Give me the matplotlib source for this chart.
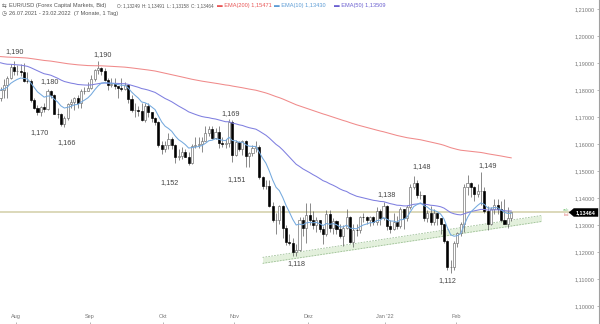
import numpy as np
import pandas as pd
import matplotlib
matplotlib.use("Agg")
import matplotlib.pyplot as plt
from matplotlib.patches import Polygon

plt.rcParams['font.family'] = ['Liberation Sans', 'DejaVu Sans']

# daily EUR/USD candles, 26.07.2021 - 23.02.2022 (one row per week)
dates = pd.bdate_range('2021-07-26', '2022-02-23')
first_open = 1.1770
closes = [
    1.1800, 1.1817, 1.1843, 1.1887, 1.1870,
    1.1870, 1.1867, 1.1835, 1.1833, 1.1762,
    1.1735, 1.1718, 1.1738, 1.1730, 1.1795,
    1.1780, 1.1712, 1.1710, 1.1675, 1.1698,
    1.1748, 1.1755, 1.1772, 1.1750, 1.1795,
    1.1797, 1.1808, 1.1840, 1.1875, 1.1880,
    1.1872, 1.1838, 1.1818, 1.1822, 1.1813,
    1.1808, 1.1805, 1.1817, 1.1765, 1.1725,
    1.1727, 1.1723, 1.1690, 1.1740, 1.1720,
    1.1695, 1.1683, 1.1598, 1.1580, 1.1595,
    1.1620, 1.1598, 1.1553, 1.1555, 1.1570,
    1.1553, 1.1528, 1.1594, 1.1598, 1.1600,
    1.1610, 1.1640, 1.1655, 1.1623, 1.1645,
    1.1605, 1.1600, 1.1605, 1.1682, 1.1558,
    1.1607, 1.1580, 1.1610, 1.1555, 1.1568,
    1.1587, 1.1590, 1.1478, 1.1445, 1.1445,
    1.1370, 1.1318, 1.1318, 1.1370, 1.1290,
    1.1237, 1.1235, 1.1200, 1.1208, 1.1318,
    1.1290, 1.1338, 1.1320, 1.1300, 1.1317,
    1.1285, 1.1265, 1.1340, 1.1290, 1.1315,
    1.1285, 1.1258, 1.1290, 1.1330, 1.1238,
    1.1282, 1.1280, 1.1330, 1.1328, 1.1320,
    1.1330, 1.1310, 1.1350, 1.1325, 1.1370,
    1.1295, 1.1285, 1.1312, 1.1295, 1.1358,
    1.1325, 1.1368, 1.1440, 1.1455, 1.1410,
    1.1410, 1.1325, 1.1345, 1.1310, 1.1345,
    1.1325, 1.1302, 1.1240, 1.1145, 1.1145,
    1.1235, 1.1270, 1.1305, 1.1440, 1.1455,
    1.1442, 1.1415, 1.1425, 1.1425, 1.1350,
    1.1305, 1.1358, 1.1375, 1.1360, 1.1320,
    1.1305, 1.1325, 1.13464,
]
highs = [
    1.1810, 1.1840, 1.1850, 1.1895, 1.1909,
    1.1892, 1.1895, 1.1900, 1.1865, 1.1840,
    1.1770, 1.1745, 1.1742, 1.1750, 1.1805,
    1.1800, 1.1785, 1.1735, 1.1715, 1.1705,
    1.1752, 1.1765, 1.1775, 1.1780, 1.1802,
    1.1810, 1.1830, 1.1857, 1.1876, 1.1909,
    1.1885, 1.1880, 1.1845, 1.1845, 1.1845,
    1.1815, 1.1845, 1.1830, 1.1820, 1.1780,
    1.1750, 1.1740, 1.1750, 1.1750, 1.1750,
    1.1720, 1.1700, 1.1685, 1.1610, 1.1610,
    1.1640, 1.1625, 1.1600, 1.1580, 1.1590,
    1.1580, 1.1570, 1.1600, 1.1625, 1.1625,
    1.1625, 1.1668, 1.1667, 1.1665, 1.1660,
    1.1665, 1.1625, 1.1620, 1.1692, 1.1690,
    1.1615, 1.1610, 1.1615, 1.1615, 1.1570,
    1.1595, 1.1610, 1.1595, 1.1480, 1.1465,
    1.1465, 1.1385, 1.1345, 1.1375, 1.1375,
    1.1300, 1.1265, 1.1250, 1.1230, 1.1330,
    1.1330, 1.1383, 1.1380, 1.1350, 1.1330,
    1.1320, 1.1295, 1.1355, 1.1355, 1.1325,
    1.1320, 1.1305, 1.1300, 1.1360, 1.1335,
    1.1305, 1.1305, 1.1335, 1.1345, 1.1335,
    1.1335, 1.1335, 1.1368, 1.1360, 1.1386,
    1.1375, 1.1320, 1.1345, 1.1335, 1.1365,
    1.1360, 1.1375, 1.1450, 1.1482, 1.1465,
    1.1425, 1.1410, 1.1355, 1.1370, 1.1360,
    1.1345, 1.1325, 1.1305, 1.1245, 1.1170,
    1.1240, 1.1275, 1.1310, 1.1450, 1.1485,
    1.1460, 1.1445, 1.1450, 1.1495, 1.1440,
    1.1370, 1.1365, 1.1395, 1.1395, 1.1390,
    1.1395, 1.1365, 1.13491,
]
lows = [
    1.1760, 1.1770, 1.1770, 1.1840, 1.1855,
    1.1857, 1.1852, 1.1830, 1.1825, 1.1755,
    1.1730, 1.1706, 1.1705, 1.1720, 1.1725,
    1.1770, 1.1710, 1.1695, 1.1665, 1.1664,
    1.1690, 1.1735, 1.1727, 1.1735, 1.1735,
    1.1785, 1.1795, 1.1805, 1.1835, 1.1860,
    1.1855, 1.1835, 1.1800, 1.1810, 1.1805,
    1.1770, 1.1795, 1.1800, 1.1750, 1.1720,
    1.1700, 1.1705, 1.1685, 1.1680, 1.1700,
    1.1680, 1.1670, 1.1590, 1.1563, 1.1570,
    1.1580, 1.1580, 1.1529, 1.1540, 1.1545,
    1.1550, 1.1524, 1.1525, 1.1585, 1.1585,
    1.1570, 1.1610, 1.1630, 1.1620, 1.1620,
    1.1585, 1.1590, 1.1585, 1.1590, 1.1535,
    1.1555, 1.1575, 1.1560, 1.1513, 1.1513,
    1.1555, 1.1570, 1.1470, 1.1435, 1.1432,
    1.1365, 1.1310, 1.1265, 1.1305, 1.1250,
    1.1225, 1.1225, 1.1186, 1.1185, 1.1205,
    1.1260, 1.1235, 1.1300, 1.1285, 1.1275,
    1.1275, 1.1228, 1.1260, 1.1275, 1.1265,
    1.1265, 1.1250, 1.1222, 1.1285, 1.1235,
    1.1220, 1.1260, 1.1270, 1.1310, 1.1305,
    1.1295, 1.1300, 1.1300, 1.1300, 1.1320,
    1.1280, 1.1272, 1.1280, 1.1285, 1.1290,
    1.1285, 1.1315, 1.1360, 1.1435, 1.1400,
    1.1395, 1.1315, 1.1310, 1.1300, 1.1300,
    1.1300, 1.1265, 1.1235, 1.1135, 1.1121,
    1.1135, 1.1220, 1.1260, 1.1275, 1.1410,
    1.1405, 1.1390, 1.1405, 1.1375, 1.1345,
    1.1280, 1.1300, 1.1340, 1.1340, 1.1310,
    1.1305, 1.1290, 1.13158,
]

# EMA values at the left edge of the window
ema_seeds = {10: 1.1800, 50: 1.1905, 200: 1.1925}
ema_colors = {10: '#74a9de', 50: '#7f7fe0', 200: '#f08a8a'}

# support channel drawn on the chart (trading-day index, price)
channel_x = [78, 161]
channel_top = [1.1180, 1.1335]
channel_width = 0.0022

# swing high / low labels
swing_text = ['1,190', '1,180', '1,170', '1,166', '1,190', '1,152', '1,169',
              '1,151', '1,118', '1,138', '1,148', '1,112', '1,149']
swing_pos = [(4.3, 1.1941), (14.7, 1.1830), (11.5, 1.1641), (19.8, 1.1604),
             (30.5, 1.1930), (50.4, 1.1456), (68.6, 1.1711), (70.4, 1.1467),
             (88.2, 1.1156), (115.0, 1.1411), (125.2, 1.1515), (132.9, 1.1096),
             (145.1, 1.1522)]

month_names = ['Aug', 'Sep', 'Okt', 'Nov', 'Dez', "Jan '22", 'Feb']
last_price = 1.13464
y_ticks = [1.10, 1.11, 1.12, 1.13, 1.14, 1.15, 1.16, 1.17, 1.18, 1.19, 1.20, 1.21]

# legend line: (x in pixels, text, colour, font size)
header_items = [
    (117, 'O: 1,13249', '#555555', 3.3),
    (142, 'H: 1,13491', '#555555', 3.3),
    (167, 'L: 1,13158', '#555555', 3.3),
    (191, 'C: 1,13464', '#555555', 3.3),
    (217, '\u25ac EMA(200) 1,15471', '#e85555', 4.1),
    (274, '\u25ac EMA(10) 1,13430', '#5b9bd5', 4.1),
    (334, '\u25ac EMA(50) 1,13509', '#6a5fd0', 4.1),
]

closes = np.array(closes)
opens = np.concatenate([[first_open], closes[:-1]])
highs = np.array(highs)
lows = np.array(lows)
idx = np.arange(len(dates))


def ema(values, n, seed):
    alpha = 2.0 / (n + 1)
    out = []
    e = seed
    for v in values:
        e = e + alpha * (v - e)
        out.append(e)
    return np.array(out)


fig = plt.figure(figsize=(6.0, 3.24), dpi=100)
ax = fig.add_axes([0, 0, 599 / 600, 1])
ax.set_xlim(-0.149, 178.13)
ax.set_ylim(1.093333, 1.213333)

# current price line
ax.axhline(last_price, color='#d9d6b4', lw=1.3, zorder=1, xmax=573 / 599)

# channel
ch_x = np.array(channel_x, dtype=float)
ch_top = np.array(channel_top)
ax.fill_between(ch_x, ch_top - channel_width, ch_top, color='#e3f0dc', lw=0, zorder=1)
ax.plot(ch_x, ch_top, color='#9cbf95', lw=0.6, ls=(0, (2, 1.5)), zorder=1.5)
ax.plot(ch_x, ch_top - channel_width, color='#9cbf95', lw=0.6, ls=(0, (2, 1.5)), zorder=1.5)

# candles
up = closes >= opens
body_lo = np.minimum(opens, closes)
body_h = np.maximum(np.abs(closes - opens), 0.00008)
ax.vlines(idx, lows, highs, color='#5a5a5a', lw=0.5, zorder=2)
ax.bar(idx[up], body_h[up], bottom=body_lo[up], width=0.62,
       color='white', edgecolor='#6a6a6a', linewidth=0.45, zorder=3)
ax.bar(idx[~up], body_h[~up], bottom=body_lo[~up], width=0.62,
       color='black', edgecolor='black', linewidth=0.45, zorder=3)

# EMAs
for n in (200, 50, 10):
    ax.plot(idx, ema(closes, n, ema_seeds[n]), color=ema_colors[n], lw=0.75, zorder=4)

for t, (px, py) in zip(swing_text, swing_pos):
    ax.text(px, py, t, fontsize=5.2, color='#444444', ha='center', va='center', zorder=5)

# axes styling
for s in ('top', 'left', 'bottom'):
    ax.spines[s].set_visible(False)
ax.spines['right'].set_color('#a0a0a0')
ax.spines['right'].set_linewidth(0.8)

ax.yaxis.tick_right()
ax.set_yticks(y_ticks)
ax.set_yticklabels([f'{v:.5f}'.replace('.', ',') for v in y_ticks])
ax.tick_params(axis='y', direction='in', length=1.6, width=0.5, color='#999999',
               labelsize=4, labelcolor='#777777', pad=-3)
for lab in ax.get_yticklabels():
    lab.set_horizontalalignment('right')

month_idx = []
prev = None
for i, d in enumerate(dates):
    if prev is not None and d.month != prev:
        month_idx.append(i - 0.5)
    prev = d.month
ax.set_xticks(month_idx)
ax.set_xticklabels(month_names)
ax.tick_params(axis='x', direction='in', length=1.6, width=0.5, color='#999999',
               labelsize=4, labelcolor='#777777', pad=-7.5)

# price tag on the right
tag_h = 0.0015
tag = Polygon([(569 / 599, last_price), (574 / 599, last_price + tag_h),
               (598 / 599, last_price + tag_h), (598 / 599, last_price - tag_h),
               (574 / 599, last_price - tag_h)], closed=True, fc='black', ec='black',
              lw=0.3, transform=ax.get_yaxis_transform(), zorder=6, clip_on=False)
ax.add_patch(tag)
ax.text(586 / 599, last_price, '1,13464', transform=ax.get_yaxis_transform(),
        fontsize=3.9, color='white', fontweight='bold', ha='center', va='center', zorder=7)
ax.text(566 / 599, last_price + 0.0011, 'ask', transform=ax.get_yaxis_transform(),
        fontsize=3, color='#7cc47c', ha='center', va='center', zorder=7)
ax.text(566 / 599, last_price - 0.0011, 'bid', transform=ax.get_yaxis_transform(),
        fontsize=3, color='#e07a7a', ha='center', va='center', zorder=7)

# header
W, H = 600.0, 324.0
hdr = dict(va='center', ha='left')
fig.text(2 / W, 1 - 6 / H, '\u21c6', color='#555555', fontsize=4.1, **hdr)
fig.text(9 / W, 1 - 6 / H, 'EUR/USD (Forex Capital Markets, Bid)', color='#555555',
         fontsize=4.1, **hdr)
for hx, htxt, hcol, hfs in header_items:
    fig.text(hx / W, 1 - 6 / H, htxt, color=hcol, fontsize=hfs, **hdr)
fig.text(2 / W, 1 - 14 / H, '\u25f7', color='#555555', fontsize=4.1, **hdr)
fig.text(9 / W, 1 - 14 / H, '26.07.2021 - 23.02.2022  (7 Monate, 1 Tag)', color='#555555',
         fontsize=4.1, **hdr)

fig.savefig('out.png', dpi=100)
